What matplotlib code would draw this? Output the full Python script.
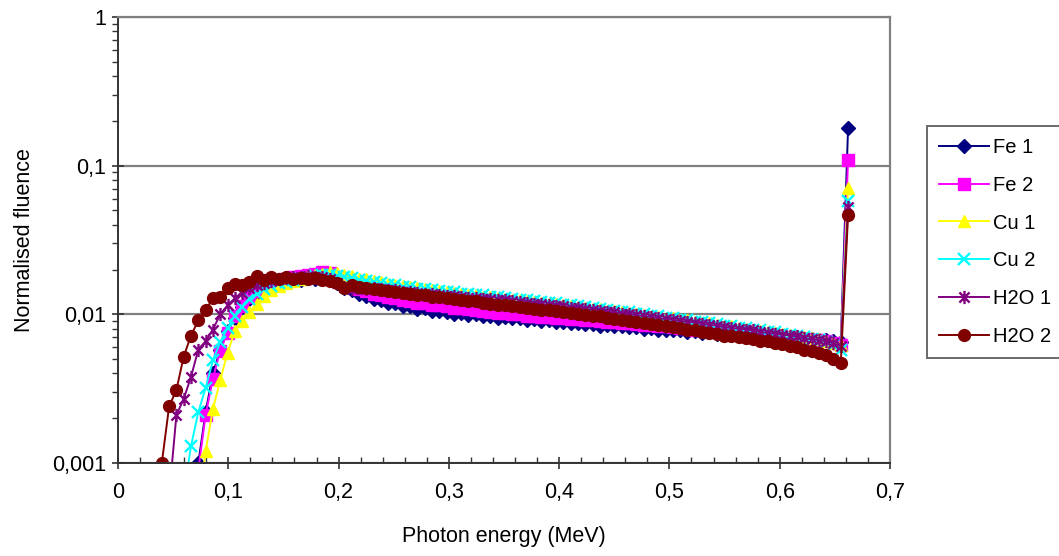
import matplotlib.pyplot as plt
import numpy as np
from matplotlib.path import Path
from matplotlib.ticker import FixedLocator, FixedFormatter, FuncFormatter, MultipleLocator, LogLocator, NullFormatter

plt.rcParams['font.family'] = ['Liberation Sans', 'DejaVu Sans']

# energy bins (MeV), 100 channels up to the 662 keV line
bin_width = 0.00662
energy = bin_width * np.arange(1, 101)

# normalised fluence per series, each starts at the given channel number
fe1_start = 11
fe1 = [0.0010, 0.0022, 0.0040, 0.0058, 0.0077, 0.0095, 0.0112, 0.0127, 0.0140, 0.0150,
       0.0158, 0.0164, 0.0166, 0.0172, 0.0171, 0.0176, 0.0173, 0.0178, 0.0172, 0.0163,
       0.0151, 0.0145, 0.0137, 0.0133, 0.0127, 0.0125, 0.0120, 0.0119, 0.0114, 0.0113,
       0.0109, 0.0110, 0.0106, 0.0105, 0.0104, 0.0101, 0.0102, 0.0099, 0.0100, 0.0097,
       0.0097, 0.0095, 0.0096, 0.0094, 0.0094, 0.0092, 0.0093, 0.0090, 0.0091, 0.0089,
       0.0089, 0.0087, 0.0088, 0.0086, 0.0086, 0.0084, 0.0085, 0.0083, 0.0083, 0.0082,
       0.0082, 0.0080, 0.0081, 0.0079, 0.0079, 0.0078, 0.0078, 0.0076, 0.0077, 0.0075,
       0.0076, 0.0074, 0.0074, 0.0073, 0.0073, 0.0072, 0.0072, 0.0071, 0.0071, 0.0070,
       0.0070, 0.0069, 0.0069, 0.0068, 0.0068, 0.0067, 0.0067, 0.0066, 0.0065, 0.180]

fe2_start = 11
fe2 = [0.0009, 0.0021, 0.0037, 0.0057, 0.0075, 0.0098, 0.0114, 0.0130, 0.0143, 0.0154,
       0.0162, 0.0168, 0.0172, 0.0177, 0.0180, 0.0184, 0.0186, 0.0192, 0.0190, 0.0178,
       0.0166, 0.0156, 0.0148, 0.0144, 0.0138, 0.0135, 0.0131, 0.0128, 0.0125, 0.0123,
       0.0120, 0.0119, 0.0116, 0.0115, 0.0113, 0.0111, 0.0110, 0.0108, 0.0107, 0.0105,
       0.0104, 0.0102, 0.0102, 0.0100, 0.0100, 0.0098, 0.0098, 0.0096, 0.0096, 0.0095,
       0.0094, 0.0093, 0.0093, 0.0091, 0.0091, 0.0090, 0.0089, 0.0089, 0.0087, 0.0087,
       0.0086, 0.0085, 0.0085, 0.0083, 0.0083, 0.0082, 0.0081, 0.0081, 0.0079, 0.0079,
       0.0078, 0.0077, 0.0077, 0.0075, 0.0075, 0.0074, 0.0073, 0.0073, 0.0071, 0.0071,
       0.0070, 0.0069, 0.0069, 0.0068, 0.0067, 0.0067, 0.0066, 0.0064, 0.0062, 0.109]

cu1_start = 11
cu1 = [0.0005, 0.0012, 0.0023, 0.0036, 0.0055, 0.0077, 0.0090, 0.0103, 0.0118, 0.0132,
       0.0145, 0.0155, 0.0162, 0.0168, 0.0174, 0.0180, 0.0185, 0.0188, 0.0192, 0.0190,
       0.0184, 0.0180, 0.0174, 0.0172, 0.0167, 0.0165, 0.0160, 0.0158, 0.0155, 0.0152,
       0.0150, 0.0148, 0.0145, 0.0143, 0.0141, 0.0139, 0.0137, 0.0135, 0.0134, 0.0131,
       0.0130, 0.0128, 0.0127, 0.0125, 0.0124, 0.0122, 0.0121, 0.0119, 0.0118, 0.0117,
       0.0115, 0.0114, 0.0112, 0.0111, 0.0109, 0.0108, 0.0106, 0.0105, 0.0103, 0.0102,
       0.0100, 0.0099, 0.0097, 0.0096, 0.0095, 0.0094, 0.0092, 0.0091, 0.0089, 0.0088,
       0.0087, 0.0085, 0.0084, 0.0083, 0.0081, 0.0080, 0.0079, 0.0077, 0.0076, 0.0075,
       0.0074, 0.0073, 0.0071, 0.0070, 0.0069, 0.0068, 0.0066, 0.0064, 0.0062, 0.071]

cu2_start = 9
cu2 = [0.00063, 0.0013, 0.0022, 0.0032, 0.0049, 0.0065, 0.0081, 0.0098, 0.0112, 0.0126,
       0.0138, 0.0148, 0.0156, 0.0162, 0.0166, 0.0170, 0.0174, 0.0176, 0.0180, 0.0183,
       0.0185, 0.0182, 0.0178, 0.0175, 0.0170, 0.0168, 0.0164, 0.0162, 0.0158, 0.0157,
       0.0153, 0.0152, 0.0149, 0.0148, 0.0145, 0.0144, 0.0142, 0.0141, 0.0138, 0.0137,
       0.0135, 0.0134, 0.0131, 0.0130, 0.0128, 0.0127, 0.0125, 0.0124, 0.0122, 0.0121,
       0.0119, 0.0119, 0.0116, 0.0115, 0.0113, 0.0112, 0.0110, 0.0109, 0.0107, 0.0106,
       0.0104, 0.0103, 0.0101, 0.0100, 0.0098, 0.0098, 0.0095, 0.0095, 0.0092, 0.0092,
       0.0089, 0.0089, 0.0087, 0.0086, 0.0084, 0.0084, 0.0081, 0.0081, 0.0079, 0.0078,
       0.0076, 0.0076, 0.0074, 0.0073, 0.0071, 0.0070, 0.0068, 0.0067, 0.0065, 0.0062,
       0.0058, 0.0575]

h2o1_start = 7
h2o1 = [0.0006, 0.0021, 0.0027, 0.0038, 0.0058, 0.0066, 0.0079, 0.0100, 0.0115, 0.0128,
        0.0140, 0.0150, 0.0158, 0.0163, 0.0168, 0.0172, 0.0175, 0.0177, 0.0178, 0.0180,
        0.0179, 0.0178, 0.0174, 0.0163, 0.0152, 0.0148, 0.0151, 0.0149, 0.0150, 0.0147,
        0.0146, 0.0145, 0.0142, 0.0141, 0.0139, 0.0138, 0.0136, 0.0135, 0.0133, 0.0132,
        0.0131, 0.0129, 0.0128, 0.0127, 0.0126, 0.0124, 0.0124, 0.0122, 0.0121, 0.0119,
        0.0118, 0.0117, 0.0116, 0.0114, 0.0113, 0.0111, 0.0110, 0.0109, 0.0107, 0.0106,
        0.0104, 0.0103, 0.0101, 0.0100, 0.0099, 0.0097, 0.0096, 0.0094, 0.0093, 0.0092,
        0.0090, 0.0089, 0.0088, 0.0086, 0.0085, 0.0084, 0.0082, 0.0081, 0.0080, 0.0079,
        0.0078, 0.0076, 0.0075, 0.0074, 0.0073, 0.0072, 0.0071, 0.0069, 0.0068, 0.0067,
        0.0066, 0.0064, 0.0061, 0.053]

h2o2_start = 5
h2o2 = [0.0003, 0.0010, 0.0024, 0.0031, 0.0052, 0.0072, 0.0091, 0.0107, 0.0128, 0.0130,
        0.0150, 0.0159, 0.0158, 0.0166, 0.0180, 0.0170, 0.0179, 0.0172, 0.0178, 0.0174,
        0.0176, 0.0172, 0.0175, 0.0170, 0.0168, 0.0162, 0.0150, 0.0158, 0.0153, 0.0150,
        0.0148, 0.0145, 0.0143, 0.0142, 0.0139, 0.0138, 0.0135, 0.0134, 0.0131, 0.0130,
        0.0128, 0.0126, 0.0125, 0.0122, 0.0122, 0.0119, 0.0118, 0.0116, 0.0115, 0.0113,
        0.0112, 0.0110, 0.0109, 0.0107, 0.0107, 0.0105, 0.0103, 0.0102, 0.0100, 0.0099,
        0.0097, 0.0097, 0.0095, 0.0093, 0.0092, 0.0090, 0.0089, 0.0087, 0.0086, 0.0085,
        0.0083, 0.0082, 0.0081, 0.0079, 0.0078, 0.0076, 0.0075, 0.0074, 0.0072, 0.0071,
        0.0070, 0.0069, 0.0068, 0.0066, 0.0066, 0.0064, 0.0063, 0.0061, 0.0060, 0.0058,
        0.0057, 0.0055, 0.0053, 0.0050, 0.0047, 0.0467]

labels = ['Fe 1', 'Fe 2', 'Cu 1', 'Cu 2', 'H2O 1', 'H2O 2']
y_ticks = [0.001, 0.01, 0.1, 1]
y_ticklabels = ['0,001', '0,01', '0,1', '1']

# excel style star: an x with a vertical bar
star = Path([(-1, -1), (1, 1), (-1, 1), (1, -1), (0, -1.3), (0, 1.3)],
            [Path.MOVETO, Path.LINETO, Path.MOVETO, Path.LINETO, Path.MOVETO, Path.LINETO])

series = [
    (fe1_start, fe1, '#000080', dict(marker='D', ms=7)),
    (fe2_start, fe2, '#FF00FF', dict(marker='s', ms=8)),
    (cu1_start, cu1, '#FFFF00', dict(marker='^', ms=9)),
    (cu2_start, cu2, '#00FFFF', dict(marker='x', ms=8.5, mew=1.7)),
    (h2o1_start, h2o1, '#800080', dict(marker=star, ms=9.5, mew=1.7)),
    (h2o2_start, h2o2, '#800000', dict(marker='o', ms=8.5)),
]

fig = plt.figure(figsize=(10.59, 5.56), dpi=100)
ax = fig.add_axes([118 / 1059, 1 - 463 / 556, (890 - 118) / 1059, (463 - 17) / 556])

for (start, vals, col, mk), lab in zip(series, labels):
    x = energy[start - 1:start - 1 + len(vals)]
    ax.plot(x, vals, color=col, lw=1.4, mfc=col, mec=col, label=lab, **mk)

ax.set_yscale('log')
ax.set_ylim(0.001, 1)
ax.set_xlim(0, 0.7)

ax.yaxis.set_major_locator(FixedLocator(y_ticks))
ax.yaxis.set_major_formatter(FixedFormatter(y_ticklabels))
ax.yaxis.set_minor_locator(LogLocator(base=10, subs=np.arange(2, 10)))
ax.yaxis.set_minor_formatter(NullFormatter())
ax.xaxis.set_major_locator(MultipleLocator(0.1))
ax.xaxis.set_minor_locator(MultipleLocator(0.02))
ax.xaxis.set_major_formatter(FuncFormatter(lambda v, p: ('%g' % round(v, 2)).replace('.', ',')))

ax.grid(True, which='major', axis='y', color='#808080', lw=1.6)
ax.set_axisbelow(True)

for side in ['top', 'right']:
    ax.spines[side].set_color('#808080')
    ax.spines[side].set_linewidth(1.6)
for side in ['left', 'bottom']:
    ax.spines[side].set_color('#333333')
    ax.spines[side].set_linewidth(1.4)

fs = 15.5
ax.tick_params(which='major', direction='inout', length=9, width=1.2, labelsize=fs, colors='#333333', labelcolor='black')
ax.tick_params(axis='y', which='major', pad=4)
ax.tick_params(axis='x', which='major', pad=9)
ax.tick_params(axis='y', which='minor', direction='out', length=4, width=1.0, colors='#333333')
ax.tick_params(axis='x', which='minor', direction='in', length=4, width=1.0, colors='#333333')

ax.set_xlabel('Photon energy (MeV)', fontsize=fs, labelpad=17)
ax.set_ylabel('Normalised fluence', fontsize=fs, labelpad=12)

leg = fig.legend(loc='upper left', bbox_to_anchor=(927 / 1059, 1 - 126 / 556), fontsize=14.5,
                 frameon=True, fancybox=False, edgecolor='#444444', handlelength=2.5,
                 labelspacing=0.93, borderpad=0.6, handletextpad=0.2, borderaxespad=0)
leg.get_frame().set_linewidth(1.4)

fig.savefig('out.png', dpi=100)
